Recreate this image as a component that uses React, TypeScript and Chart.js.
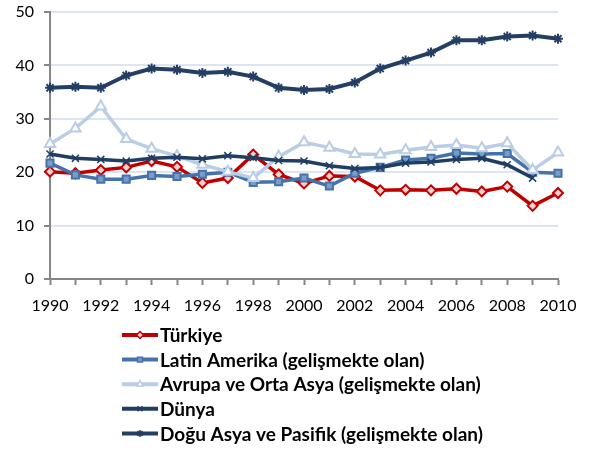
import React, { useEffect, useRef } from "react";
import { Chart, registerables } from "chart.js";
import { drawPoint } from "chart.js/helpers";

Chart.register(...registerables);

const years = [
  "1990", "1991", "1992", "1993", "1994", "1995", "1996", "1997", "1998", "1999", "2000",
  "2001", "2002", "2003", "2004", "2005", "2006", "2007", "2008", "2009", "2010",
];
const yTicks = [0, 10, 20, 30, 40, 50];

const turkiye = [20.1, 19.8, 20.4, 20.9, 22.1, 21.0, 18.0, 18.9, 23.3, 19.6, 17.9, 19.3, 19.2, 16.6, 16.7, 16.6, 16.9, 16.4, 17.3, 13.7, 16.1];
const latinAmerika = [21.7, 19.5, 18.7, 18.7, 19.4, 19.2, 19.6, 20.0, 18.1, 18.2, 18.9, 17.4, 19.8, 20.9, 22.3, 22.6, 23.6, 23.4, 23.5, 20.0, 19.8];
const avrupaOrtaAsya = [25.3, 28.2, 32.3, 26.2, 24.4, 23.0, 21.4, 20.1, 18.9, 22.9, 25.6, 24.6, 23.4, 23.3, 24.1, 24.7, 25.1, 24.5, 25.4, 20.4, 23.7];
const dunya = [23.4, 22.6, 22.4, 22.1, 22.6, 22.8, 22.5, 23.1, 22.7, 22.2, 22.1, 21.2, 20.7, 20.9, 21.7, 21.9, 22.4, 22.6, 21.4, 18.9, null];
const doguAsyaPasifik = [35.8, 36.0, 35.8, 38.1, 39.4, 39.2, 38.6, 38.8, 37.9, 35.8, 35.4, 35.6, 36.8, 39.4, 40.9, 42.4, 44.7, 44.7, 45.4, 45.6, 45.0];

const seriesLabels = [
  "Türkiye",
  "Latin Amerika (gelişmekte olan)",
  "Avrupa ve Orta Asya (gelişmekte olan)",
  "Dünya",
  "Doğu Asya ve Pasifik (gelişmekte olan)",
];

const FONT = "Lato, 'Open Sans', sans-serif";

const legendPlugin = {
  id: "verticalLegend",
  afterDraw(chart: any) {
    const ctx = chart.ctx;
    const x0 = 122;
    const x1 = 158;
    const y0 = 335;
    const step = 24.6;
    chart.data.datasets.forEach((ds: any, i: number) => {
      const y = y0 + i * step;
      ctx.save();
      ctx.strokeStyle = ds.borderColor;
      ctx.lineWidth = 4;
      ctx.beginPath();
      ctx.moveTo(x0, y);
      ctx.lineTo(x1, y);
      ctx.stroke();
      ctx.fillStyle = ds.pointBackgroundColor;
      ctx.strokeStyle = ds.pointBorderColor;
      ctx.lineWidth = 1.5;
      drawPoint(ctx, { pointStyle: ds.pointStyle, radius: 3.5, borderWidth: 1.5, rotation: 0 }, (x0 + x1) / 2, y);
      ctx.fillStyle = "#000";
      ctx.font = `bold 19px ${FONT}`;
      ctx.textBaseline = "middle";
      ctx.textAlign = "left";
      ctx.fillText(ds.label, x1 + 2, y + 1);
      ctx.restore();
    });
  },
};

export default function App() {
  const ref = useRef<HTMLCanvasElement | null>(null);
  useEffect(() => {
    document.body.style.margin = "0";
    const canvas = ref.current;
    if (!canvas) return;
    const chart = new Chart(canvas, {
      type: "line",
      data: {
        labels: years,
        datasets: [
          {
            label: seriesLabels[0],
            data: turkiye,
            borderColor: "#C00000",
            backgroundColor: "#C00000",
            pointStyle: "rectRot",
            pointRadius: 5,
            pointBorderWidth: 2,
            pointBackgroundColor: "#F4D0D0",
            pointBorderColor: "#C00000",
            borderWidth: 3.5,
            order: 4,
          },
          {
            label: seriesLabels[1],
            data: latinAmerika,
            borderColor: "#4672AA",
            backgroundColor: "#4672AA",
            pointStyle: "rect",
            pointRadius: 5,
            pointBorderWidth: 2,
            pointBackgroundColor: "#7A9CC8",
            pointBorderColor: "#4672AA",
            borderWidth: 3.5,
            order: 3,
          },
          {
            label: seriesLabels[2],
            data: avrupaOrtaAsya,
            borderColor: "#B9CDE5",
            backgroundColor: "#B9CDE5",
            pointStyle: "triangle",
            pointRadius: 6,
            pointBorderWidth: 2,
            pointBackgroundColor: "#FFFFFF",
            pointBorderColor: "#B9CDE5",
            borderWidth: 3.5,
            order: 2,
          },
          {
            label: seriesLabels[3],
            data: dunya,
            borderColor: "#203D63",
            backgroundColor: "#203D63",
            pointStyle: "crossRot",
            pointRadius: 5,
            pointBorderWidth: 1.5,
            pointBackgroundColor: "#203D63",
            pointBorderColor: "#203D63",
            borderWidth: 3.5,
            order: 1,
          },
          {
            label: seriesLabels[4],
            data: doguAsyaPasifik,
            borderColor: "#243F63",
            backgroundColor: "#243F63",
            pointStyle: "star",
            pointRadius: 5,
            pointBorderWidth: 2,
            pointBackgroundColor: "#243F63",
            pointBorderColor: "#243F63",
            borderWidth: 4,
            order: 0,
          },
        ],
      },
      options: {
        responsive: false,
        animation: false,
        devicePixelRatio: 1,
        layout: { padding: { top: 12, right: 31, left: 0, bottom: 0 } },
        plugins: {
          legend: { display: false },
          tooltip: { enabled: false },
        },
        scales: {
          x: {
            afterFit: (scale: any) => {
              scale.height = 171;
            },
            grid: {
              drawOnChartArea: false,
              drawTicks: true,
              tickLength: 6,
              tickColor: "#868686",
              tickWidth: 2,
            },
            border: { color: "#868686", width: 2 },
            ticks: {
              autoSkip: false,
              maxRotation: 0,
              minRotation: 0,
              padding: 11,
              color: "#000",
              font: { family: FONT, size: 16 },
              callback: (_v: any, i: number) => (i % 2 === 0 ? years[i] : ""),
            },
          },
          y: {
            min: 0,
            max: 50,
            afterFit: (scale: any) => {
              scale.width = 50;
              scale.paddingTop = 0;
              scale.paddingBottom = 0;
            },
            afterBuildTicks: (scale: any) => {
              scale.ticks = yTicks.map((v) => ({ value: v }));
            },
            grid: {
              color: (c: any) => (c.tick && c.tick.value === 0 ? "rgba(0,0,0,0)" : "#DCE5F1"),
              lineWidth: 2,
              drawTicks: true,
              tickLength: 6,
              tickColor: "#868686",
              tickWidth: 2,
            },
            border: { color: "#868686", width: 2 },
            ticks: {
              padding: 10,
              color: "#000",
              font: { family: FONT, size: 16 },
            },
          },
        },
      },
      plugins: [legendPlugin],
    });
    return () => chart.destroy();
  }, []);
  return <canvas ref={ref} width={589} height={450} />;
}
